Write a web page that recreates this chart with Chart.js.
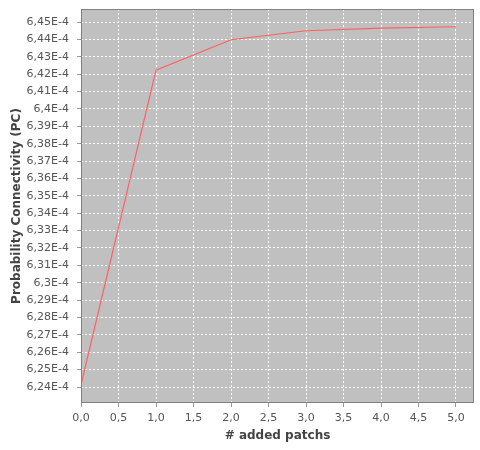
<!DOCTYPE html>
<html>
<head>
<meta charset="utf-8">
<script src="https://cdn.jsdelivr.net/npm/chart.js@4"></script>
<style>
  html, body { margin: 0; padding: 0; background: #fff; }
  #wrap { width: 480px; height: 450px; }
</style>
</head>
<body>
<div id="wrap"><canvas id="pcChart" width="480" height="450"></canvas></div>
<script>
// values
const addedPatches = [0, 1, 2, 3, 4, 5];
const pcValues = [6.2413e-4, 6.4223e-4, 6.4398e-4, 6.4450e-4, 6.4465e-4, 6.4473e-4];
const xRange = [0, 5.24];
const yRange = [6.2308e-4, 6.4575e-4];
const xStep = 0.5;
const yStep = 0.01e-4;

const fmtComma = (s) => s.replace('.', ',');

// gray plot background + border, the JFreeChart look
const plotFrame = {
    id: 'plotFrame',
    beforeDraw(chart) {
        const { ctx, chartArea: a } = chart;
        ctx.save();
        ctx.fillStyle = '#c0c0c0';
        ctx.fillRect(a.left, a.top, a.right - a.left, a.bottom - a.top);
        ctx.restore();
    },
    afterDraw(chart) {
        const { ctx, chartArea: a } = chart;
        ctx.save();
        ctx.strokeStyle = '#808080';
        ctx.lineWidth = 1;
        ctx.strokeRect(a.left + 0.5, a.top + 0.5, a.right - a.left - 1, a.bottom - a.top - 1);
        ctx.restore();
    }
};

function keepSteps(step) {
    return function (scale) {
        const ticks = [];
        const start = Math.ceil(scale.min / step - 1e-6);
        for (let i = start; i * step <= scale.max + 1e-12; i++) {
            ticks.push({ value: +(i * step).toPrecision(10) });
        }
        scale.ticks = ticks;
    };
}

new Chart(document.getElementById('pcChart'), {
    type: 'line',
    data: {
        datasets: [{
            data: addedPatches.map((x, i) => ({ x: x, y: pcValues[i] })),
            borderColor: '#ff6060',
            borderWidth: 1.2,
            pointRadius: 0,
            tension: 0,
            fill: false
        }]
    },
    options: {
        responsive: false,
        animation: false,
        layout: { padding: { top: 9, right: 6, left: 0, bottom: 0 } },
        plugins: { legend: { display: false }, tooltip: { enabled: false } },
        scales: {
            x: {
                type: 'linear',
                min: xRange[0],
                max: xRange[1],
                afterBuildTicks: keepSteps(xStep),
                afterFit(scale) {
                    scale.height = 47;
                    scale.paddingLeft = 0;
                    scale.paddingRight = 0;
                },
                grid: {
                    color: '#ffffff',
                    lineWidth: 1,
                    tickLength: 4,
                    tickColor: '#999999'
                },
                border: { display: false, dash: [2, 2] },
                ticks: {
                    padding: 5,
                    color: '#555555',
                    font: { family: 'DejaVu Sans', size: 11 },
                    maxRotation: 0,
                    autoSkip: false,
                    callback: (v) => fmtComma(v.toFixed(1))
                },
                title: {
                    display: true,
                    text: '# added patchs',
                    color: '#444444',
                    font: { family: 'DejaVu Sans', size: 12, weight: 'bold' },
                    padding: { top: 0, bottom: 7 }
                }
            },
            y: {
                type: 'linear',
                min: yRange[0],
                max: yRange[1],
                afterBuildTicks: keepSteps(yStep),
                afterFit(scale) {
                    scale.width = 81;
                    scale.paddingTop = 0;
                    scale.paddingBottom = 0;
                },
                grid: {
                    color: '#ffffff',
                    lineWidth: 1,
                    tickLength: 4,
                    tickColor: '#999999'
                },
                border: { display: false, dash: [2, 2] },
                ticks: {
                    padding: 8,
                    color: '#555555',
                    font: { family: 'DejaVu Sans', size: 11 },
                    autoSkip: false,
                    callback: (v) => fmtComma(String(+(v * 1e4).toFixed(2))) + 'E-4'
                },
                title: {
                    display: true,
                    text: 'Probability Connectivity (PC)',
                    color: '#444444',
                    font: { family: 'DejaVu Sans', size: 12, weight: 'bold' },
                    padding: { top: 10, bottom: 0 }
                }
            }
        }
    },
    plugins: [plotFrame]
});
</script>
</body>
</html>
